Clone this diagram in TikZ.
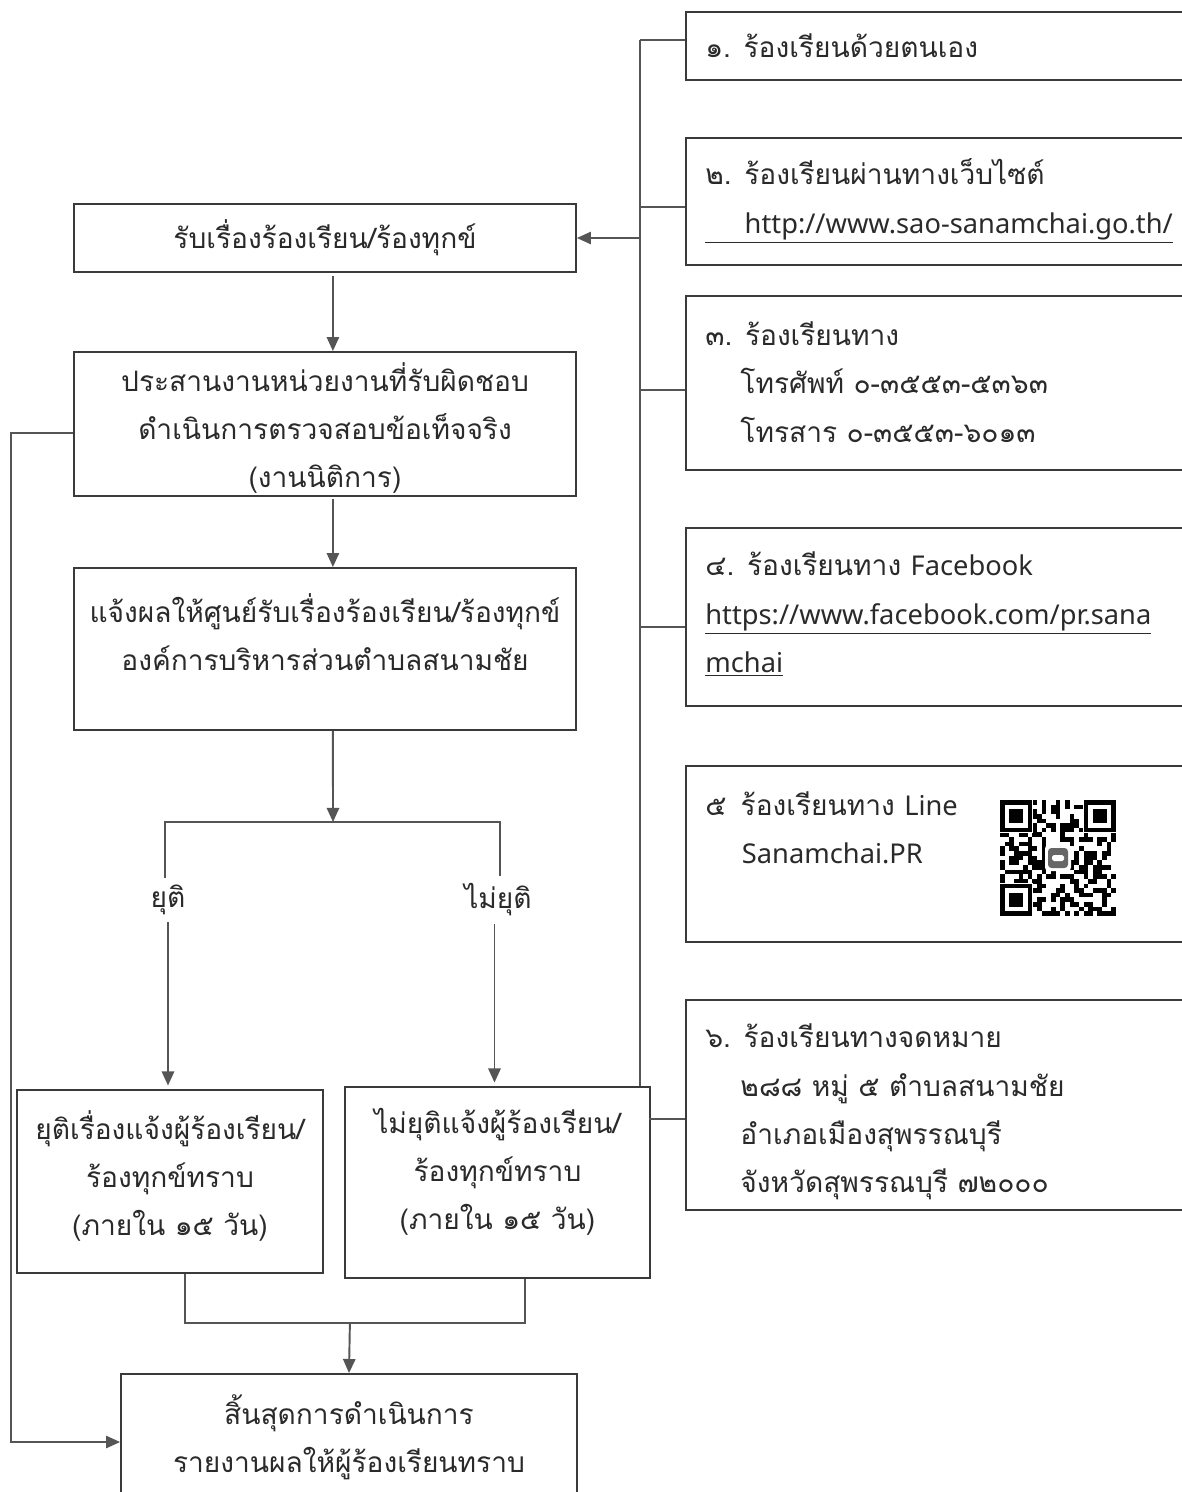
\documentclass[tikz,border=0pt]{standalone}
\usepackage{fontspec}
\setmainfont{Loma}[Script=Thai]
\newfontfamily\lat{Noto Sans}[Scale=0.97]
\usetikzlibrary{arrows.meta,calc}
\definecolor{ln}{HTML}{555555}
\definecolor{bx}{HTML}{3A3A3A}
\definecolor{tx}{HTML}{2A2A2A}
\tikzset{
  box/.style={draw=bx, line width=1.1pt, rectangle, inner sep=0pt},
  txt/.style={inner sep=0pt, font=\fontsize{16}{27.5}\selectfont, text=tx},
  conn/.style={draw=ln, line width=1.1pt},
  arr/.style={conn, -{Triangle[length=8pt,width=7pt]}},
}
\begin{document}
\begin{tikzpicture}[x=0.02cm,y=-0.02cm]
\useasboundingbox (0,0) rectangle (1182,1492);
\fill[white] (0,0) rectangle (1182,1492);

% left column boxes
\node[box, minimum width=10.04cm, minimum height=1.36cm] (recv) at (325,238) {};
\node[txt] (trecv) at (325,238) {รับเรื่องร้องเรียน/ร้องทุกข์};
\node[box, minimum width=10.04cm, minimum height=2.88cm] (coord) at (325,424) {};
\node[txt, align=center] (tcoord) at (325,428) {ประสานงานหน่วยงานที่รับผิดชอบ\\ดำเนินการตรวจสอบข้อเท็จจริง\\(งานนิติการ)};
\node[box, minimum width=10.04cm, minimum height=3.24cm] (notify) at (325,649) {};
\node[txt, align=center] (tnotify) at (325,632) {แจ้งผลให้ศูนย์รับเรื่องร้องเรียน/ร้องทุกข์\\องค์การบริหารส่วนตำบลสนามชัย};
\node[box, minimum width=6.12cm, minimum height=3.66cm] (yuti) at (170,1181.5) {};
\node[txt, align=center] (tyuti) at (170,1176) {ยุติเรื่องแจ้งผู้ร้องเรียน/\\ร้องทุกข์ทราบ\\(ภายใน ๑๕ วัน)};
\node[box, minimum width=6.10cm, minimum height=3.82cm] (notyuti) at (497.5,1182.5) {};
\node[txt, align=center] (tnotyuti) at (497.5,1172) {ไม่ยุติแจ้งผู้ร้องเรียน/\\ร้องทุกข์ทราบ\\(ภายใน ๑๕ วัน)};
\node[box, minimum width=9.12cm, minimum height=2.72cm] (end) at (349,1442) {};
\node[txt, align=center] (tend) at (349,1437) {สิ้นสุดการดำเนินการ\\รายงานผลให้ผู้ร้องเรียนทราบ};

% branch labels
\node[txt, inner sep=4pt] (lyuti) at (168,900) {ยุติ};
\node[txt, inner sep=4pt] (lnot) at (498,900) {ไม่ยุติ};

% right column boxes
\node[box, minimum width=10.28cm, minimum height=1.36cm] (r1) at (943,46) {};
\node[txt, anchor=west] (t1) at (705,46) {๑. ร้องเรียนด้วยตนเอง};
\node[box, minimum width=10.28cm, minimum height=2.54cm] (r2) at (943,201.5) {};
\node[txt, anchor=west, align=left] (t2) at (705,201) {๒. ร้องเรียนผ่านทางเว็บไซต์\\\underline{\hspace*{1.4em}{\lat http://www.sao-sanamchai.go.th/}}};
\node[box, minimum width=10.28cm, minimum height=3.48cm] (r3) at (943,383) {};
\node[txt, anchor=west, align=left] (t3) at (705,382) {๓. ร้องเรียนทาง\\\hspace*{1.25em}โทรศัพท์ ๐-๓๕๕๓-๕๓๖๓\\\hspace*{1.25em}โทรสาร ๐-๓๕๕๓-๖๐๑๓};
\node[box, minimum width=10.28cm, minimum height=3.56cm] (r4) at (943,617) {};
\node[txt, anchor=west, align=left] (t4) at (705,614) {๔. ร้องเรียนทาง {\lat Facebook}\\\underline{\lat https://www.facebook.com/pr.sana}\\\underline{\lat mchai}};
\node[box, minimum width=10.28cm, minimum height=3.52cm] (r5) at (943,854) {};
\node[txt, anchor=west, align=left] (t5) at (705,828) {๕\hspace*{0.5em}ร้องเรียนทาง {\lat Line}\\\hspace*{1.3em}{\lat Sanamchai.PR}};
\node[box, minimum width=10.28cm, minimum height=4.2cm] (r6) at (943,1105) {};
\node[txt, anchor=west, align=left] (t6) at (705,1112) {๖. ร้องเรียนทางจดหมาย\\\hspace*{1.25em}๒๘๘ หมู่ ๕ ตำบลสนามชัย\\\hspace*{1.25em}อำเภอเมืองสุพรรณบุรี\\\hspace*{1.25em}จังหวัดสุพรรณบุรี ๗๒๐๐๐};

% QR code
\pgfmathsetseed{20}
\foreach \i in {0,...,24}{
  \foreach \j in {0,...,24}{
    \pgfmathtruncatemacro\r{rnd*2}
    \ifnum\r=1 \fill[black] (1000+\i*4.64,800+\j*4.64) rectangle ++(4.64,4.64);\fi
  }
}
\foreach \ox/\oy in {0/0, 18/0, 0/18}{
  \fill[white] (1000+\ox*4.64-0.5,800+\oy*4.64-0.5) rectangle ++(33.5,33.5);
  \fill[black] (1000+\ox*4.64,800+\oy*4.64) rectangle ++(32.48,32.48);
  \fill[white] (1000+\ox*4.64+4.64,800+\oy*4.64+4.64) rectangle ++(23.2,23.2);
  \fill[black] (1000+\ox*4.64+9.28,800+\oy*4.64+9.28) rectangle ++(13.92,13.92);
}
\fill[white, rounded corners=2pt] (1045,845) rectangle (1071,871);
\fill[black!60, rounded corners=2pt] (1048,848) rectangle (1068,868);
\fill[white, rounded corners=1pt] (1052,855) rectangle (1064,861);

% connectors right side
\draw[conn] ([yshift=3.4pt]r1.west) -- ++(-45,0) coordinate (bustop);
\draw[conn] (bustop) -- (bustop |- notyuti.north);
\draw[conn] ([yshift=-3pt]r2.west) -- ++(-45,0);
\draw[conn] ([yshift=-4pt]r3.west) -- ++(-45,0);
\draw[conn] ([yshift=-5.7pt]r4.west) -- ++(-45,0);
\draw[conn] ([yshift=-8pt]r6.west) -- ++(-36,0);
\draw[arr] (bustop |- recv.east) -- (recv.east);

% left flow
\draw[arr] ([xshift=4.5pt,yshift=-2pt]recv.south) -- ([xshift=4.5pt]coord.north);
\draw[arr] ([xshift=4.5pt,yshift=-1pt]coord.south) -- ([xshift=4.5pt]notify.north);
\coordinate (split) at (333,822);
\draw[arr] ([xshift=4.5pt]notify.south) -- (split);
\coordinate (sl) at (165,822);
\coordinate (sr) at (500,822);
\draw[conn] (lyuti.north -| sl) -- (sl) -- (sr) -- (lnot.north -| sr);
\draw[arr, shorten >=2pt] (lyuti.south) -- (lyuti.south |- yuti.north);
\draw[arr, shorten >=2pt] ([xshift=-2pt]lnot.south) -- ([xshift=-2pt]lnot.south |- notyuti.north);
\coordinate (jl) at (185,1323);
\coordinate (jr) at (525,1323);
\draw[conn] (yuti.south -| jl) -- (jl) -- (jr) -- (notyuti.south -| jr);
\draw[arr] ($(jl)!0.485!(jr)$) -- (end.north);
\draw[arr] ([yshift=-5pt]coord.west) -- ++(-62,0) |- (end.west);
\end{tikzpicture}
\end{document}
